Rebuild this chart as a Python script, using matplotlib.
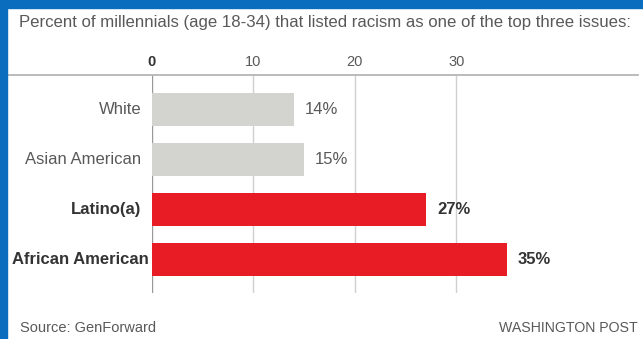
import matplotlib.pyplot as plt
from matplotlib.patches import Rectangle
from matplotlib.lines import Line2D

# survey share listing racism among top three issues, ages 18-34
groups = ["White", "Asian American", "Latino(a)", "African American"]
percents = [14, 15, 27, 35]
highlight = [False, False, True, True]
ticks = [0, 10, 20, 30]

title = "Percent of millennials (age 18-34) that listed racism as one of the top three issues:"
source = "Source: GenForward"
credit = "WASHINGTON POST"

GRAY_BAR = "#d3d3cf"
RED_BAR = "#e81c24"
TEXT = "#595959"
DARK = "#333333"
FRAME = "#0b6dbd"

plt.rcParams['font.family'] = ['Liberation Sans', 'DejaVu Sans']

fig = plt.figure(figsize=(6.43, 3.39), dpi=100)
fig.patch.set_facecolor("white")

W, H = 643, 339
ax = fig.add_axes([151.7 / W, 1 - 293 / H, (638.9 - 151.7) / W, (293 - 75) / H])

ypos = list(range(len(groups)))
colors = [RED_BAR if h else GRAY_BAR for h in highlight]
ax.barh(ypos, percents, height=0.66, color=colors, zorder=2)

ax.set_xlim(0, 48)
ax.set_ylim(len(groups) - 0.34, -0.68)

# vertical gridlines, zero line a bit darker
for t in ticks:
    ax.axvline(t, color="#999999" if t == 0 else "#d0d0d0", lw=1.0, zorder=1)
    ax.text(t, -0.93, str(t), ha="center", va="center", fontsize=10.5,
            color=DARK if t == 0 else TEXT,
            fontweight="bold" if t == 0 else "normal")

for y, (g, v, h) in enumerate(zip(groups, percents, highlight)):
    weight = "bold" if h else "normal"
    col = DARK if h else TEXT
    ax.text(-0.3 if g == "African American" else -1.0, y, g, ha="right",
            va="center", fontsize=12, color=col, fontweight=weight, clip_on=False)
    ax.text(v + 1.1, y, f"{v}%", ha="left", va="center", fontsize=12,
            color=col, fontweight=weight)

ax.set_xticks([])
ax.set_yticks([])
for s in ax.spines.values():
    s.set_visible(False)

# rule under the tick labels, across the full width
fig.add_artist(Line2D([8 / W, 638 / W], [1 - 75 / H, 1 - 75 / H],
                      color="#b5b5b5", lw=1.3))

fig.text(19 / W, 1 - 22 / H, title, ha="left", va="center",
         fontsize=12.1, color=TEXT)
fig.text(20 / W, 1 - 328 / H, source, ha="left", va="center",
         fontsize=10.5, color=TEXT)
fig.text(638 / W, 1 - 328 / H, credit, ha="right", va="center",
         fontsize=10.2, color=TEXT)

# blue frame on top and left edges
fig.add_artist(Rectangle((0, 1 - 8 / H), 1, 8 / H, transform=fig.transFigure,
                         color=FRAME, zorder=10))
fig.add_artist(Rectangle((0, 0), 7 / W, 1, transform=fig.transFigure,
                         color=FRAME, zorder=10))

fig.savefig("out.png", dpi=100)
